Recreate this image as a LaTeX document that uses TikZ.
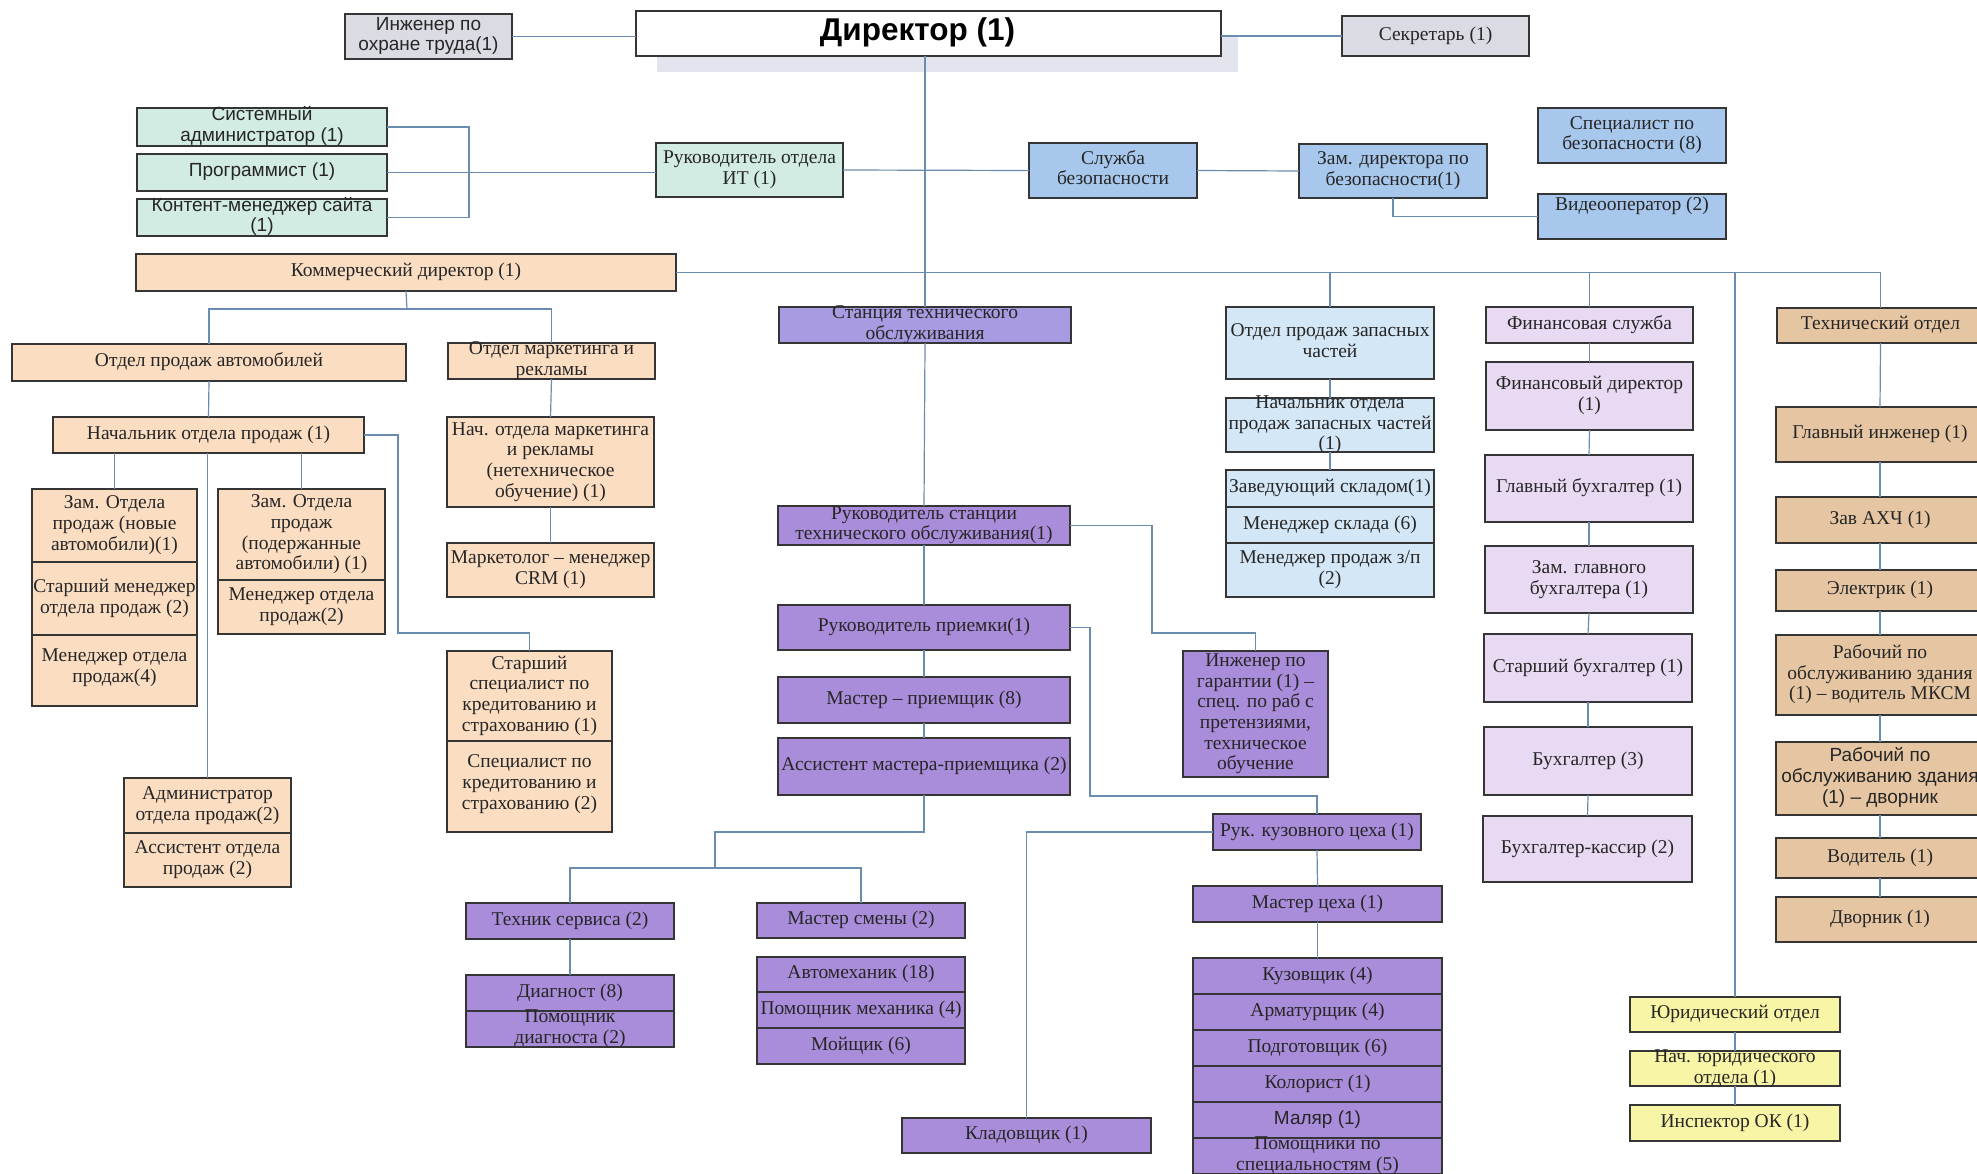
\documentclass[tikz,border=0pt]{standalone}
\usepackage{fontspec}
\setmainfont{Liberation Serif}
\setsansfont{Liberation Sans}
\definecolor{bordc}{HTML}{353535}
\definecolor{linec}{HTML}{6A8DAF}
\definecolor{txtc}{HTML}{262626}
\definecolor{fgray}{HTML}{DADBE3}
\definecolor{fshad}{HTML}{E3E5EE}
\definecolor{fmint}{HTML}{D2EBE3}
\definecolor{fsecu}{HTML}{A7C8EC}
\definecolor{fpeach}{HTML}{FBDDC2}
\definecolor{fpurp}{HTML}{A98DDA}
\definecolor{fpurpb}{HTML}{A99BE2}
\definecolor{fzap}{HTML}{D4E7F6}
\definecolor{ffin}{HTML}{E8DAF3}
\definecolor{ftan}{HTML}{E6C6A2}
\definecolor{fyel}{HTML}{F9F5A6}
\newcommand\fsr{\fontsize{19.5}{20.7}\selectfont}
\newcommand\fsa{\fontsize{19}{20.7}\selectfont\sffamily}
\newcommand\fdr{\fontsize{31.5}{34}\selectfont\sffamily\bfseries}
\newcommand\bx[8]{\node[box,#1,minimum width={(#6-#4)*1pt},minimum height={(#7-#5)*1pt},
  label={[txt,#2]center:{\begin{tabular}{@{}c@{}}#8\end{tabular}}}] (#3) at ({(#4+#6)/2},{(#5+#7)/2}) {};}
\tikzset{
  box/.style={draw=bordc,line width=1.7pt,inner sep=0pt,outer sep=0pt},
  txt/.style={inner sep=0pt,text=txtc},
  tser/.style={font=\fsr},
  tsan/.style={font=\fsa},
  tdir/.style={font=\fdr,text=black,xshift=-11pt},
  cgray/.style={fill=fgray},
  cwhite/.style={fill=white},
  cmint/.style={fill=fmint},
  csecu/.style={fill=fsecu},
  cpeach/.style={fill=fpeach},
  cpurp/.style={fill=fpurp},
  cpurpb/.style={fill=fpurpb},
  czap/.style={fill=fzap},
  cfin/.style={fill=ffin},
  ctan/.style={fill=ftan},
  cyel/.style={fill=fyel},
  ln/.style={draw=linec,line width=1.2pt}
}
\begin{document}
\begin{tikzpicture}[x=1pt,y=-1pt]
\useasboundingbox (0,0) rectangle (1977,1173);
\fill[white] (0,0) rectangle (1977,1173);
\clip (0,0) rectangle (1977,1173);
\fill[fshad] (657,35) rectangle (1238,72);
% top
\bx{cgray}{tsan}{ohr}{345}{14}{512}{59}{Инженер по\\охране труда(1)}
\bx{cwhite}{tdir}{dir}{636}{11}{1221}{56}{Директор (1)}
\bx{cgray}{tser}{sec}{1342}{16}{1529}{56}{Секретарь (1)}
% IT
\bx{cmint}{tsan}{sys}{137}{108}{387}{146}{Системный\\администратор (1)}
\bx{cmint}{tsan}{prog}{137}{154}{387}{191}{Программист (1)}
\bx{cmint}{tsan}{kont}{137}{199}{387}{236}{Контент-менеджер сайта\\(1)}
\bx{cmint}{tser}{it}{656}{143}{843}{197}{Руководитель отдела\\ИТ (1)}
% security
\bx{csecu}{tser}{sb}{1029}{143}{1197}{198}{Служба\\безопасности}
\bx{csecu}{tser}{zdb}{1299}{144}{1487}{198}{Зам. директора по\\безопасности(1)}
\bx{csecu}{tser}{spb}{1538}{108}{1726}{163}{Специалист по\\безопасности (8)}
\bx{csecu}{tser}{vid}{1538}{194}{1726}{239}{Видеооператор (2)\\\mbox{}}
% commercial
\bx{cpeach}{tser}{kd}{136}{254}{676}{291}{Коммерческий директор (1)}
\bx{cpeach}{tser}{opa}{12}{344}{406}{381}{Отдел продаж автомобилей}
\bx{cpeach}{tser}{mk}{448}{343}{655}{379}{Отдел маркетинга и\\рекламы}
\bx{cpeach}{tser}{nop}{53}{417}{364}{453}{Начальник отдела продаж (1)}
\bx{cpeach}{tser}{zamA}{32}{489}{197}{562}{Зам. Отдела\\продаж (новые\\автомобили)(1)}
\bx{cpeach}{tser}{zamB}{32}{562}{197}{635}{Старший менеджер\\отдела продаж (2)}
\bx{cpeach}{tser}{zamC}{32}{635}{197}{706}{Менеджер отдела\\продаж(4)\\[6pt]}
\bx{cpeach}{tser}{zamD}{218}{489}{385}{580}{Зам. Отдела\\продаж\\(подержанные\\автомобили) (1)}
\bx{cpeach}{tser}{zamE}{218}{580}{385}{634}{Менеджер отдела\\продаж(2)}
\bx{cpeach}{tser}{nmk}{447}{417}{654}{507}{Нач. отдела маркетинга\\и рекламы\\(нетехническое\\обучение) (1)}
\bx{cpeach}{tser}{mkt}{447}{543}{654}{597}{Маркетолог – менеджер\\CRM (1)}
\bx{cpeach}{tser}{ssA}{447}{651}{612}{741}{Старший\\специалист по\\кредитованию и\\страхованию (1)}
\bx{cpeach}{tser}{ssB}{447}{741}{612}{832}{Специалист по\\кредитованию и\\страхованию (2)\\[4pt]}
\bx{cpeach}{tser}{admA}{124}{778}{291}{833}{Администратор\\отдела продаж(2)}
\bx{cpeach}{tser}{admB}{124}{833}{291}{887}{Ассистент отдела\\продаж (2)}
% service station
\bx{cpurpb}{tser}{st}{779}{307}{1071}{343}{Станция технического\\обслуживания}
\bx{cpurp}{tser}{rst}{778}{506}{1070}{545}{Руководитель станции\\технического обслуживания(1)}
\bx{cpurp}{tser}{rpr}{778}{605}{1070}{650}{Руководитель приемки(1)}
\bx{cpurp}{tser}{mp}{778}{677}{1070}{723}{Мастер – приемщик (8)}
\bx{cpurp}{tser}{amp}{778}{738}{1070}{795}{Ассистент мастера-приемщика (2)}
\bx{cpurp}{tser}{gar}{1183}{651}{1328}{777}{Инженер по\\гарантии (1) –\\спец. по раб с\\претензиями,\\техническое\\обучение}
\bx{cpurp}{tser}{rk}{1213}{814}{1421}{850}{Рук. кузовного цеха (1)}
\bx{cpurp}{tser}{klad}{902}{1118}{1151}{1153}{Кладовщик (1)}
\bx{cpurp}{tser}{mc}{1193}{886}{1442}{922}{Мастер цеха (1)}
\bx{cpurp}{tser}{kzA}{1193}{958}{1442}{994}{Кузовщик (4)}
\bx{cpurp}{tser}{kzB}{1193}{994}{1442}{1030}{Арматурщик (4)}
\bx{cpurp}{tser}{kzC}{1193}{1030}{1442}{1066}{Подготовщик (6)}
\bx{cpurp}{tser}{kzD}{1193}{1066}{1442}{1102}{Колорист (1)}
\bx{cpurp}{tsan}{kzE}{1193}{1102}{1442}{1138}{Маляр (1)}
\bx{cpurp}{tser}{kzF}{1193}{1138}{1442}{1174}{Помощники по\\специальностям (5)}
\bx{cpurp}{tser}{ts}{466}{903}{674}{939}{Техник сервиса (2)}
\bx{cpurp}{tser}{ms}{757}{903}{965}{938}{Мастер смены (2)}
\bx{cpurp}{tser}{dgA}{466}{975}{674}{1011}{Диагност (8)}
\bx{cpurp}{tser}{dgB}{466}{1011}{674}{1047}{Помощник\\диагноста (2)}
\bx{cpurp}{tser}{amA}{757}{957}{965}{992}{Автомеханик (18)}
\bx{cpurp}{tser}{amB}{757}{992}{965}{1028}{Помощник механика (4)}
\bx{cpurp}{tser}{amC}{757}{1028}{965}{1064}{Мойщик (6)}
% spare parts
\bx{czap}{tser}{zap}{1226}{307}{1434}{379}{Отдел продаж запасных\\частей}
\bx{czap}{tser}{nzap}{1226}{398}{1434}{452}{Начальник отдела\\продаж запасных частей\\(1)}
\bx{czap}{tser}{zsA}{1226}{470}{1434}{507}{Заведующий складом(1)}
\bx{czap}{tser}{zsB}{1226}{507}{1434}{543}{Менеджер склада (6)}
\bx{czap}{tser}{zsC}{1226}{543}{1434}{597}{Менеджер продаж з/п\\(2)}
% finance
\bx{cfin}{tser}{fs}{1486}{307}{1693}{343}{Финансовая служба}
\bx{cfin}{tser}{fd}{1486}{362}{1693}{430}{Финансовый директор\\(1)}
\bx{cfin}{tser}{gb}{1485}{455}{1693}{522}{Главный бухгалтер (1)}
\bx{cfin}{tser}{zgb}{1485}{546}{1693}{613}{Зам. главного\\бухгалтера (1)}
\bx{cfin}{tser}{sbx}{1484}{634}{1692}{702}{Старший бухгалтер (1)}
\bx{cfin}{tser}{bux}{1484}{727}{1692}{795}{Бухгалтер (3)}
\bx{cfin}{tser}{kass}{1483}{816}{1692}{882}{Бухгалтер-кассир (2)}
% legal
\bx{cyel}{tser}{yur}{1630}{997}{1840}{1032}{Юридический отдел}
\bx{cyel}{tser}{nyur}{1630}{1051}{1840}{1086}{Нач. юридического\\отдела (1)}
\bx{cyel}{tser}{insp}{1630}{1105}{1840}{1141}{Инспектор ОК (1)}
% technical
\bx{ctan}{tser}{tech}{1777}{308}{1984}{343}{Технический отдел}
\bx{ctan}{tser}{gi}{1776}{407}{1984}{462}{Главный инженер (1)}
\bx{ctan}{tser}{ahch}{1776}{497}{1984}{543}{Зав АХЧ (1)}
\bx{ctan}{tser}{el}{1776}{570}{1984}{611}{Электрик (1)}
\bx{ctan}{tser}{rabA}{1776}{635}{1984}{715}{Рабочий по\\обслуживанию здания\\(1) – водитель МКСМ}
\bx{ctan}{tsan}{rabB}{1776}{742}{1984}{815}{Рабочий по\\обслуживанию здания\\(1) – дворник}
\bx{ctan}{tser}{vod}{1776}{838}{1984}{878}{Водитель (1)}
\bx{ctan}{tser}{dvor}{1776}{897}{1984}{942}{Дворник (1)}
% junction coordinates
\coordinate (itj) at (469,0);
\coordinate (kj) at (407,309);
\coordinate (nj) at (398,633);
\coordinate (gj) at (1152,633);
\coordinate (rj) at (1090,796);
\coordinate (ajA) at (715,832);
\coordinate (ajB) at (715,868);
% connectors
\draw[ln] (ohr.east) -- (ohr.east -| dir.west);
\draw[ln] (sec.west -| dir.east) -- (sec.west);
\draw[ln] (st.north |- dir.south) -- (st.north);
\draw[ln] (st.south) -- (rst.north);
\draw[ln] (sys.east) -| (itj |- kont.east) -- (kont.east);
\draw[ln] (prog.east) -- (prog.east -| it.west);
\draw[ln] (it.east) -- (sb.west);
\draw[ln] (sb.east) -- (zdb.west);
\draw[ln] (zdb.south) |- (vid.west);
\draw[ln] (kd.east) -- (tech.north |- kd.east) -- (tech.north);
\draw[ln] (zap.north |- kd.east) -- (zap.north);
\draw[ln] (fs.north |- kd.east) -- (fs.north);
\draw[ln] (yur.north |- kd.east) -- (yur.north);
\draw[ln] (kd.south) -- (kj);
\draw[ln] (opa.north) |- (kj) -| (mk.north);
\draw[ln] (opa.south) -- (nop.north);
\draw[ln] (admA.north |- nop.south) -- (admA.north);
\draw[ln] (zamA.north |- nop.south) -- (zamA.north);
\draw[ln] (zamD.north |- nop.south) -- (zamD.north);
\draw[ln] (nop.east) -| (nj) -| (ssA.north);
\draw[ln] (mk.south) -- (nmk.north);
\draw[ln] (nmk.south) -- (mkt.north);
\draw[ln] (rst.east) -| (gj) -| (gar.north);
\draw[ln] (rst.south) -- (rpr.north);
\draw[ln] (rpr.south) -- (mp.north);
\draw[ln] (mp.south) -- (amp.north);
\draw[ln] (rpr.east) -| (rj) -| (rk.north);
\draw[ln] (rk.west) -| (klad.north);
\draw[ln] (rk.south) -- (mc.north);
\draw[ln] (mc.south) -- (kzA.north);
\draw[ln] (amp.south) |- (ajA) -- (ajB);
\draw[ln] (ts.north) |- (ajB) -| (ms.north);
\draw[ln] (ts.south) -- (dgA.north);
\draw[ln] (zap.south) -- (nzap.north);
\draw[ln] (nzap.south) -- (zsA.north);
\draw[ln] (fs.south) -- (fd.north);
\draw[ln] (fd.south) -- (gb.north);
\draw[ln] (gb.south) -- (zgb.north);
\draw[ln] (zgb.south) -- (sbx.north);
\draw[ln] (sbx.south) -- (bux.north);
\draw[ln] (bux.south) -- (kass.north);
\draw[ln] (yur.south) -- (nyur.north);
\draw[ln] (nyur.south) -- (insp.north);
\draw[ln] (tech.south) -- (gi.north);
\draw[ln] (gi.south) -- (ahch.north);
\draw[ln] (ahch.south) -- (el.north);
\draw[ln] (el.south) -- (rabA.north);
\draw[ln] (rabA.south) -- (rabB.north);
\draw[ln] (rabB.south) -- (vod.north);
\draw[ln] (vod.south) -- (dvor.north);
\end{tikzpicture}
\end{document}
